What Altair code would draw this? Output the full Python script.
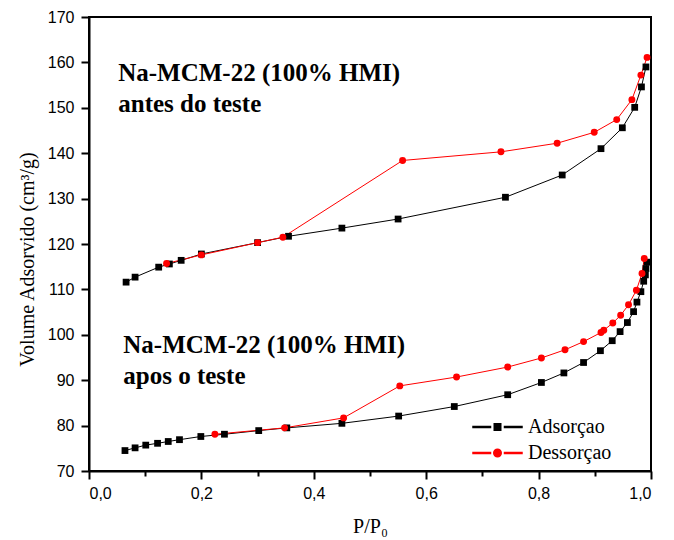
import altair as alt
import pandas as pd

# ---- data ----
types = ["Adsorçao", "Dessorçao"]
colors = ["black", "red"]

upper_ads_x = [0.066, 0.082, 0.124, 0.143, 0.164, 0.200, 0.300, 0.355, 0.450, 0.550,
               0.741, 0.842, 0.911, 0.949, 0.971, 0.983, 0.991]
upper_ads_y = [111.6, 112.7, 114.9, 115.6, 116.4, 117.8, 120.3, 121.7, 123.5, 125.5,
               130.3, 135.2, 141.0, 145.6, 150.1, 154.6, 159.0]

upper_des_x = [0.138, 0.200, 0.300, 0.345, 0.558, 0.733, 0.833, 0.899, 0.939, 0.966,
               0.982, 0.993]
upper_des_y = [115.7, 117.6, 120.3, 121.5, 138.4, 140.3, 142.2, 144.6, 147.4, 151.8,
               157.2, 161.1]

lower_ads_x = [0.064, 0.082, 0.101, 0.122, 0.141, 0.161, 0.199, 0.241, 0.302, 0.352,
               0.450, 0.551, 0.650, 0.745, 0.805, 0.845, 0.880, 0.910, 0.931, 0.945,
               0.958, 0.969, 0.975, 0.982, 0.987, 0.990, 0.991, 0.993]
lower_ads_y = [74.5, 75.1, 75.7, 76.1, 76.5, 76.9, 77.6, 78.1, 78.9, 79.5,
               80.5, 82.1, 84.2, 86.8, 89.5, 91.6, 93.9, 96.5, 98.7, 100.7,
               102.7, 105.1, 107.2, 109.5, 111.8, 113.2, 114.6, 116.0]

lower_des_x = [0.224, 0.348, 0.453, 0.553, 0.654, 0.745, 0.805, 0.847, 0.880, 0.911,
               0.916, 0.932, 0.946, 0.960, 0.974, 0.984, 0.988]
lower_des_y = [78.1, 79.5, 81.7, 88.75, 90.7, 92.9, 94.9, 96.7, 98.5, 100.5,
               101.0, 102.6, 104.3, 106.6, 109.8, 113.5, 116.8]

ann_x = [0.052, 0.061]
ann_y = [155.9, 96.1]
ann_text = [["Na-MCM-22 (100% HMI)", "antes do teste"],
            ["Na-MCM-22 (100% HMI)", "apos o teste"]]

x_ticks = [0.0, 0.1, 0.2, 0.3, 0.4, 0.5, 0.6, 0.7, 0.8, 0.9, 1.0]
y_ticks = [70, 75, 80, 85, 90, 95, 100, 105, 110, 115, 120, 125, 130, 135, 140,
           145, 150, 155, 160, 165, 170]

# ---- build table ----
rows = []
for grp, t, xs, ys in [("upper_ads", types[0], upper_ads_x, upper_ads_y),
                       ("upper_des", types[1], upper_des_x, upper_des_y),
                       ("lower_ads", types[0], lower_ads_x, lower_ads_y),
                       ("lower_des", types[1], lower_des_x, lower_des_y)]:
    for xv, yv in zip(xs, ys):
        rows.append({"p": xv, "v": yv, "type": t, "group": grp})
df = pd.DataFrame(rows)
ann = pd.DataFrame({"p": ann_x, "v": ann_y, "t": ann_text})

xs_ = alt.Scale(domain=[0, 1], nice=False, zero=False)
ys_ = alt.Scale(domain=[70, 170], nice=False, zero=False)

serif = "Liberation Serif"
sans = "Liberation Sans"

x_major_test = "abs(round(datum.value * 10) % 2) < 0.5"
y_major_test = "abs(round(datum.value) % 10) < 0.5"

x_axis = alt.Axis(values=x_ticks,
                  labelExpr="(round(datum.value * 10) % 2 == 0) ? replace(format(datum.value, '.1f'), '.', ',') : ''",
                  tickSize={"condition": {"test": x_major_test, "value": 8}, "value": 5},
                  labelPadding=6, title="P/P\u2080", titleFont=serif,
                  titleFontSize=20, titleFontWeight="normal", titleY=61,
                  titleBaseline="alphabetic", orient="bottom")
y_axis = alt.Axis(values=y_ticks,
                  labelExpr="(round(datum.value) % 10 == 0) ? format(datum.value, 'd') : ''",
                  tickSize={"condition": {"test": y_major_test, "value": 8}, "value": 5},
                  labelPadding=7,
                  title="Volume Adsorvido (cm\u00b3/g)", titleFont=serif,
                  titleFontSize=20, titleFontWeight="normal", titleX=-56, titleY=242,
                  titleAngle=-90, titleAlign="center", titleBaseline="alphabetic",
                  orient="left")

leg = alt.Legend(title=None, orient="none", legendX=398.5, legendY=400, direction="vertical",
                 labelFont=serif, labelFontSize=20, labelColor="black", symbolSize=100,
                 symbolOpacity=1, labelOffset=20.5, rowPadding=6, padding=0)

sq_path = ("M-4.9,-0.1H-1.4V0.1H-4.9Z M1.4,-0.1H4.9V0.1H1.4Z "
           "M-0.65,-0.65H0.65V0.65H-0.65Z")
ci_path = ("M-4.9,-0.1H-1.4V0.1H-4.9Z M1.4,-0.1H4.9V0.1H1.4Z "
           "M0.75,0A0.75,0.75 0 1,1 -0.75,0A0.75,0.75 0 1,1 0.75,0Z")

lines = alt.Chart(df).mark_line(strokeWidth=1).encode(
    x=alt.X("p:Q", scale=xs_, axis=x_axis),
    y=alt.Y("v:Q", scale=ys_, axis=y_axis),
    color=alt.Color("type:N", scale=alt.Scale(domain=types, range=colors), legend=leg),
    detail="group:N",
)

squares = alt.Chart(df).transform_filter(alt.datum.type == types[0]).mark_point(
    shape="square", filled=True, size=46, color="black", opacity=1
).encode(
    x=alt.X("p:Q", scale=xs_),
    y=alt.Y("v:Q", scale=ys_),
)

circles = alt.Chart(df).transform_filter(alt.datum.type == types[1]).mark_point(
    shape="circle", filled=True, size=48, color="red", opacity=1
).encode(
    x=alt.X("p:Q", scale=xs_),
    y=alt.Y("v:Q", scale=ys_),
)

annotations = alt.Chart(ann).mark_text(
    font=serif, fontSize=25, fontWeight="bold", align="left", baseline="alphabetic",
    lineHeight=31, color="black"
).encode(
    x=alt.X("p:Q", scale=xs_),
    y=alt.Y("v:Q", scale=ys_),
    text="t",
)

legend_layer = alt.Chart(df).mark_point(
    filled=True, size=100, opacity=0
).encode(
    x=alt.X("p:Q", scale=xs_),
    y=alt.Y("v:Q", scale=ys_),
    fill=alt.Fill("type:N", scale=alt.Scale(domain=types, range=colors), legend=leg),
    shape=alt.Shape("type:N", scale=alt.Scale(domain=types, range=[sq_path, ci_path]), legend=leg),
)

chart = alt.layer(lines, squares, circles, annotations, legend_layer).properties(
    width=562, height=454,
    background="white",
    autosize=alt.AutoSizeParams(type="none"),
    padding={"left": 81, "top": 9, "right": 15, "bottom": 75},
).configure_view(
    stroke="black", strokeWidth=2
).configure_axis(
    labelFont=sans, labelFontSize=16, labelColor="black", tickColor="black",
    domainColor="black", domainWidth=2, tickWidth=2, grid=False, titleColor="black"
)

chart.save("out.html", embed_options={"renderer": "svg", "actions": False})
